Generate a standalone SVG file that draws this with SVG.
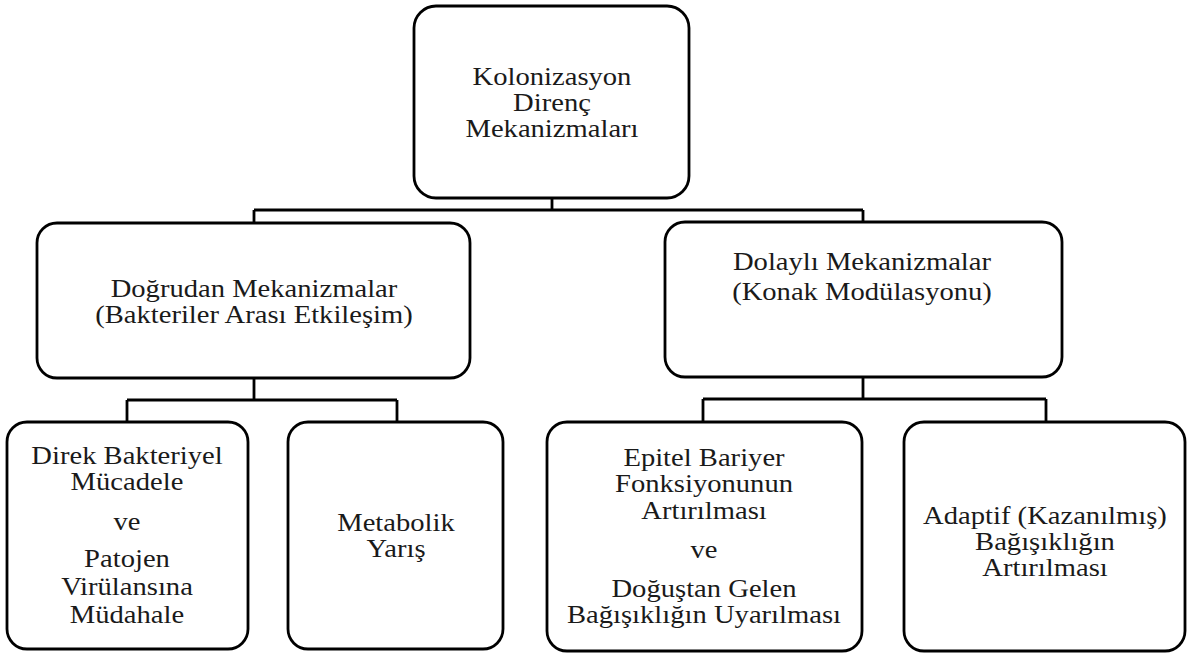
<svg xmlns="http://www.w3.org/2000/svg" width="1187" height="654" viewBox="0 0 1187 654">
<style>
.box{fill:#fff;stroke:#000;stroke-width:2.8}
.conn{fill:none;stroke:#000;stroke-width:2.8}
text{font-family:"Liberation Serif","Times New Roman",serif;font-size:26px;fill:#1a1a1a;text-anchor:middle}
</style>
<rect width="1187" height="654" fill="#fff"/>
<g id="connectors">
<path class="conn" d="M552 198V210M254 210H863M254 210V223M863 210V222"/>
<path class="conn" d="M254 378V400M127 400H397M127 400V422M397 400V422"/>
<path class="conn" d="M863 377V399M703 399H1046M703 399V422M1046 399V422"/>
</g>
<g id="root">
<rect class="box" x="414" y="6" width="275" height="192" rx="22"/>
<g transform="translate(552 0) scale(1.1 1)">
<text x="0" y="85">Kolonizasyon</text>
<text x="0" y="111">Direnç</text>
<text x="0" y="137">Mekanizmaları</text>
</g>
</g>
<g id="dogrudan">
<rect class="box" x="37" y="223" width="433" height="155" rx="20"/>
<g transform="translate(254 0) scale(1.1 1)">
<text x="0" y="297">Doğrudan Mekanizmalar</text>
<text x="0" y="323">(Bakteriler Arası Etkileşim)</text>
</g>
</g>
<g id="dolayli">
<rect class="box" x="665" y="222" width="397" height="155" rx="20"/>
<g transform="translate(862 0) scale(1.1 1)">
<text x="0" y="270">Dolaylı Mekanizmalar</text>
<text x="0" y="300">(Konak Modülasyonu)</text>
</g>
</g>
<g id="direk">
<rect class="box" x="7" y="422" width="241" height="227" rx="20"/>
<g transform="translate(127 0) scale(1.1 1)">
<text x="0" y="464">Direk Bakteriyel</text>
<text x="0" y="490">Mücadele</text>
<text x="0" y="530">ve</text>
<text x="0" y="567">Patojen</text>
<text x="0" y="595">Virülansına</text>
<text x="0" y="623">Müdahale</text>
</g>
</g>
<g id="metabolik">
<rect class="box" x="288" y="422" width="215" height="227" rx="20"/>
<g transform="translate(396 0) scale(1.1 1)">
<text x="0" y="531">Metabolik</text>
<text x="0" y="557">Yarış</text>
</g>
</g>
<g id="epitel">
<rect class="box" x="547" y="422" width="315" height="229" rx="20"/>
<g transform="translate(704 0) scale(1.1 1)">
<text x="0" y="466">Epitel Bariyer</text>
<text x="0" y="492">Fonksiyonunun</text>
<text x="0" y="519">Artırılması</text>
<text x="0" y="558">ve</text>
<text x="0" y="597">Doğuştan Gelen</text>
<text x="0" y="623">Bağışıklığın Uyarılması</text>
</g>
</g>
<g id="adaptif">
<rect class="box" x="904" y="422" width="281" height="229" rx="20"/>
<g transform="translate(1045 0) scale(1.1 1)">
<text x="0" y="524">Adaptif (Kazanılmış)</text>
<text x="0" y="550">Bağışıklığın</text>
<text x="0" y="576">Artırılması</text>
</g>
</g>
</svg>
